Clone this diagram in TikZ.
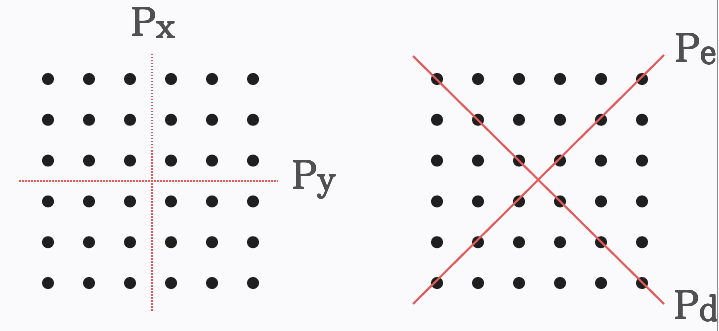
\documentclass[tikz,border=0pt]{standalone}
\usepackage[copies]{contour}
\contourlength{0.45pt}
\contournumber{16}
\definecolor{bg}{RGB}{250,250,252}
\definecolor{lred}{RGB}{226,90,90}
\definecolor{lbltext}{RGB}{80,80,80}
\newcommand{\thicklbl}[2]{\contour{lbltext}{P\raisebox{-0.05em}{\fontsize{37}{39}\selectfont #2}}}
\begin{document}
\begin{tikzpicture}[x=1pt,y=-1pt,
  dotnode/.style={circle,fill=black!88,inner sep=0pt,minimum size=12pt},
  lbl/.style={text=lbltext,font=\fontsize{41}{43}\selectfont,inner sep=0pt,anchor=base west},
  dottedred/.style={draw=lred,line width=2.6pt,dash pattern=on 1.5pt off 1.5pt},
  solidred/.style={draw=lred,line width=2pt}]
\useasboundingbox[fill=bg] (0,0) rectangle (719,331);
% grids
\foreach \i in {0,...,5}{
  \foreach \j in {0,...,5}{
    \node[dotnode] (L\i\j) at ({48+41*\i},{79+40.8*\j}) {};
    \node[dotnode] (R\i\j) at ({437+41*\i},{79+40.8*\j}) {};
  }
}
% left axes
\coordinate (vt) at (152,54);
\coordinate (vb) at (152,312);
\coordinate (hl) at (19,181);
\coordinate (hr) at (278,181);
\draw[dottedred] (vt) -- (vb);
\draw[dottedred] (hl) -- (hr);
\node[lbl] (px) at (131,36) {\thicklbl{P}{x}};
\node[lbl] (py) at (292,189) {\thicklbl{P}{y}};
% right diagonals
\coordinate (d1a) at (413,56);
\coordinate (d1b) at (664,304);
\coordinate (d2a) at (413,304);
\coordinate (d2b) at (664,55);
\draw[solidred] (d1a) -- (d1b);
\draw[solidred] (d2a) -- (d2b);
\node[lbl] (pe) at (675,62) {\thicklbl{P}{e}};
\node[lbl] (pd) at (674,319) {\thicklbl{P}{d}};
\fill[bg] (717,0) rectangle (719,331);
\draw[black!45,line width=0.8pt] (717.5,0) -- (717.5,331);
\end{tikzpicture}
\end{document}
